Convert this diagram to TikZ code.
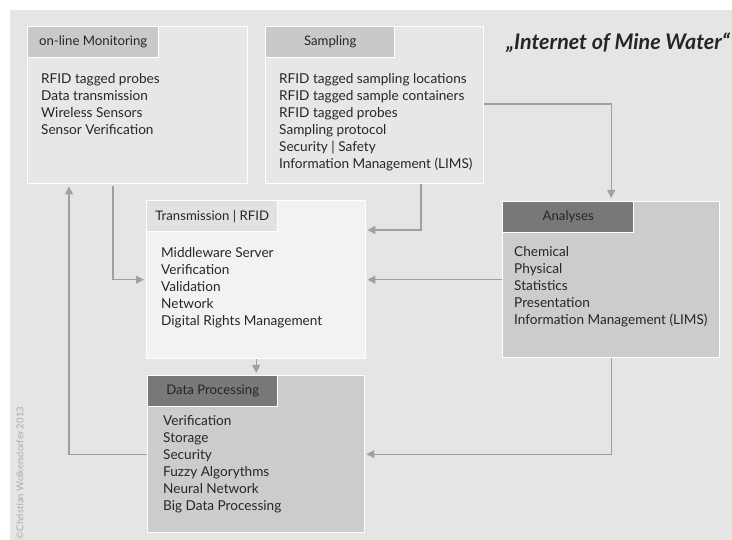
\documentclass[tikz,border=0pt]{standalone}
\usepackage{fontspec}
\setmainfont{Lato}
\usetikzlibrary{arrows.meta,calc}
\definecolor{bg}{HTML}{E5E5E5}
\definecolor{hdlight}{HTML}{C9C9C9}
\definecolor{hdpale}{HTML}{E1E1E1}
\definecolor{hddark}{HTML}{787878}
\definecolor{boxmid}{HTML}{CCCCCC}
\definecolor{boxpale}{HTML}{F2F2F2}
\definecolor{boxbg}{HTML}{E7E7E7}
\definecolor{conncol}{HTML}{A0A0A0}
\definecolor{txt}{HTML}{262626}
\definecolor{copy}{HTML}{ABABAB}
\begin{document}
\begin{tikzpicture}[x=1pt,y=-1pt,
  panel/.style={draw=white,line width=1.4pt,anchor=north west,inner sep=0pt,minimum height=157pt},
  header/.style={draw=white,line width=1.4pt,anchor=north west,inner sep=0pt,minimum width=131pt,minimum height=31pt,font=\fontsize{13.2}{15}\selectfont,text=txt},
  body/.style={anchor=north west,inner sep=0pt,align=left,font=\fontsize{13.6}{17}\selectfont,text=txt},
  conn/.style={draw=conncol,line width=1.3pt,-{Triangle[length=8pt,width=8pt]}}
]
\useasboundingbox (0,0) rectangle (732,540);
\fill[bg] (10,10) rectangle (732,540);

% panels
\node[panel,fill=boxbg,minimum width=220pt] (om) at (27,26) {};
\node[panel,fill=boxbg,minimum width=218pt] (sa) at (265,26) {};
\node[panel,fill=boxpale,minimum width=219pt,minimum height=158pt] (tr) at (146,200) {};
\node[panel,fill=boxmid,minimum width=217pt,minimum height=156pt] (an) at (502,201) {};
\node[panel,fill=boxmid,minimum width=217pt] (dp) at (147,375) {};

% headers
\node[header,fill=hdlight] (omh) at (om.north west) {on-line Monitoring};
\node[header,fill=hdlight,minimum width=129pt] (sah) at (sa.north west) {Sampling};
\node[header,fill=hdpale] (trh) at (tr.north west) {Transmission | RFID};
\node[header,fill=hddark] (anh) at (an.north west) {Analyses};
\node[header,fill=hddark,minimum width=130pt] (dph) at (dp.north west) {Data Processing};

% bodies
\node[body] (omb) at (41,73) {RFID tagged probes\\Data transmission\\Wireless Sensors\\Sensor Verification};
\node[body] (sab) at (279,73) {RFID tagged sampling locations\\RFID tagged sample containers\\RFID tagged probes\\Sampling protocol\\Security | Safety\\Information Management (LIMS)};
\node[body] (trb) at (161,247) {Middleware Server\\Verification\\Validation\\Network\\Digital Rights Management};
\node[body] (anb) at (514,246) {Chemical\\Physical\\Statistics\\Presentation\\Information Management (LIMS)};
\node[body] (dpb) at (163,415) {Verification\\Storage\\Security\\Fuzzy Algorythms\\Neural Network\\Big Data Processing};

% title and credit
\node[anchor=base east,inner sep=0pt,font=\fontsize{21.5}{24}\selectfont\itshape\bfseries,text=txt] (title) at (730,50) {„Internet of Mine Water“};
\node[rotate=90,inner sep=0pt,font=\fontsize{9.5}{11}\selectfont,text=copy] (credit) at (20,473) {©Christian Wolkersdorfer 2013};

% connectors
\draw[conn] (dp.west) -| ($(om.south west)+(42,2)$);
\draw[conn,shorten >=2pt] ($(om.south west)+(86,2)$) |- (tr.west);
\draw[conn,shorten >=1pt] ($(sa.south west)+(156,0)$) |- ($(tr.north east)+(0,30)$);
\draw[conn,shorten >=3pt] ($(sa.north east)+(0,78)$) -| (an.north);
\draw[conn,shorten >=1pt] (an.west) -- (an.west -| tr.east);
\draw[conn,shorten >=2pt] (tr.south) -- (dp.north);
\draw[conn,shorten >=1pt] (an.south) |- (dp.east);
\end{tikzpicture}
\end{document}
